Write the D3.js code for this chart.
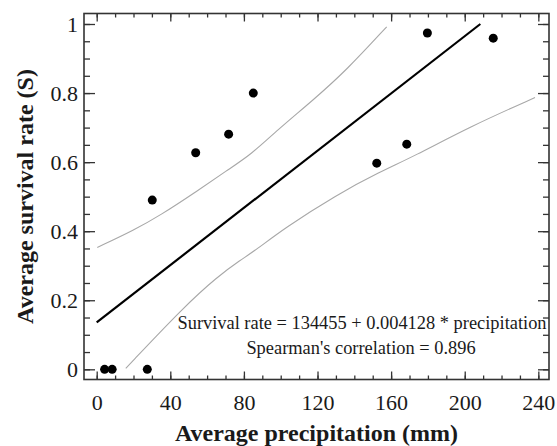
<!DOCTYPE html>
<html>
<head>
<meta charset="utf-8">
<script src="https://cdn.jsdelivr.net/npm/d3@7"></script>
<style>
  html, body { margin: 0; padding: 0; background: #fff; }
  svg { display: block; }
</style>
</head>
<body>
<script>
// ---- data ----
const precipitation = [4.3, 8.4, 27.5, 30.2, 53.8, 71.7, 85.1, 152.2, 168.5, 179.7, 215.5];
const survival      = [0.0, 0.0, 0.0, 0.490, 0.627, 0.681, 0.800, 0.597, 0.652, 0.974, 0.959];

const fitX = [0, 208.5];
const fitY = [0.136, 1.0];

const upperX = [0.3, 20.3, 34.8, 52.9, 71, 83.7, 98.2, 117.7, 135.9, 157.6];
const upperY = [0.353, 0.403, 0.447, 0.510, 0.577, 0.621, 0.693, 0.780, 0.867, 0.992];

const lowerX = [15.8, 47.4, 65.5, 78.3, 86.4, 101.8, 130.2, 154, 172.1, 202.9, 238.2];
const lowerY = [0.003, 0.181, 0.268, 0.317, 0.345, 0.408, 0.505, 0.572, 0.616, 0.703, 0.787];

const xTickLabels = [0, 40, 80, 120, 160, 200, 240];
const yTickLabels = [0, 0.2, 0.4, 0.6, 0.8, 1];
const annotation1 = "Survival rate = 134455 + 0.004128 * precipitation";
const annotation2 = "Spearman's correlation = 0.896";
const xTitle = "Average precipitation (mm)";
const yTitle = "Average survival rate (S)";

// ---- layout ----
const W = 557, H = 446;
const L = 84, R = 549, T = 13.5, B = 379.5;
const FONT = "Liberation Serif, Tinos, Times New Roman, DejaVu Serif, serif";

const x = d3.scaleLinear().domain([-6.9, 245.8]).range([L, R]);
const y = d3.scaleLinear().domain([-0.0295, 1.0304]).range([B, T]);

const svg = d3.select("body").append("svg").attr("width", W).attr("height", H)
  .attr("font-family", FONT);

const stroke = "#333";
const xMinor = d3.range(0, 241, 10);
const yMinor = d3.range(0, 1.0001, 0.05);

function styleAxis(g) {
  g.attr("font-family", FONT).attr("font-size", 22);
  g.select(".domain").remove();
  g.selectAll(".tick line").attr("stroke", stroke).attr("stroke-width", 1.3);
  g.selectAll(".tick text").attr("fill", "#1a1a1a");
}

// bottom axis
svg.append("g").attr("transform", `translate(0,${B})`)
  .call(d3.axisBottom(x).tickValues(xMinor).tickSizeInner(-4).tickSizeOuter(0).tickFormat(""))
  .call(styleAxis);
svg.append("g").attr("transform", `translate(0,${B})`)
  .call(d3.axisBottom(x).tickValues(xTickLabels).tickSizeInner(-8).tickSizeOuter(0).tickPadding(15).tickFormat(d3.format("d")))
  .call(styleAxis);
// top axis
svg.append("g").attr("transform", `translate(0,${T})`)
  .call(d3.axisTop(x).tickValues(xMinor).tickSizeInner(-4).tickSizeOuter(0).tickFormat(""))
  .call(styleAxis);
svg.append("g").attr("transform", `translate(0,${T})`)
  .call(d3.axisTop(x).tickValues(xTickLabels).tickSizeInner(-8).tickSizeOuter(0).tickFormat(""))
  .call(styleAxis);
// left axis
svg.append("g").attr("transform", `translate(${L},0)`)
  .call(d3.axisLeft(y).tickValues(yMinor).tickSizeInner(-6).tickSizeOuter(0).tickFormat(""))
  .call(styleAxis);
svg.append("g").attr("transform", `translate(${L},0)`)
  .call(d3.axisLeft(y).tickValues(yTickLabels).tickSizeInner(-11).tickSizeOuter(0).tickPadding(6)
    .tickFormat(d => d === 0 ? "0" : d === 1 ? "1" : d3.format(".1f")(d)))
  .call(styleAxis);
// right axis
svg.append("g").attr("transform", `translate(${R},0)`)
  .call(d3.axisRight(y).tickValues(yMinor).tickSizeInner(-6).tickSizeOuter(0).tickFormat(""))
  .call(styleAxis);
svg.append("g").attr("transform", `translate(${R},0)`)
  .call(d3.axisRight(y).tickValues(yTickLabels).tickSizeInner(-11).tickSizeOuter(0).tickFormat(""))
  .call(styleAxis);

// frame
svg.append("rect").attr("x", L).attr("y", T).attr("width", R - L).attr("height", B - T)
  .attr("fill", "none").attr("stroke", stroke).attr("stroke-width", 1.6);

svg.append("clipPath").attr("id", "clip").append("rect")
  .attr("x", L).attr("y", T).attr("width", R - L).attr("height", B - T);

const plot = svg.append("g").attr("clip-path", "url(#clip)");

const band = d3.line().x(d => x(d[0])).y(d => y(d[1])).curve(d3.curveBasis);

plot.append("path").datum(d3.zip(upperX, upperY)).attr("d", band)
  .attr("fill", "none").attr("stroke", "#a8a8a8").attr("stroke-width", 1.1);
plot.append("path").datum(d3.zip(lowerX, lowerY)).attr("d", band)
  .attr("fill", "none").attr("stroke", "#a8a8a8").attr("stroke-width", 1.1);
plot.append("path").datum(d3.zip(fitX, fitY)).attr("d", d3.line().x(d => x(d[0])).y(d => y(d[1])))
  .attr("fill", "none").attr("stroke", "#000").attr("stroke-width", 2.2);

svg.append("g").selectAll("circle").data(d3.zip(precipitation, survival)).join("circle")
  .attr("cx", d => x(d[0])).attr("cy", d => y(d[1])).attr("r", 4.5).attr("fill", "#000");

// annotation
svg.append("text").attr("x", 362).attr("y", 329).attr("text-anchor", "middle")
  .attr("font-family", FONT).attr("font-size", 18.4).attr("fill", "#1a1a1a").text(annotation1);
svg.append("text").attr("x", 361).attr("y", 354).attr("text-anchor", "middle")
  .attr("font-family", FONT).attr("font-size", 18.4).attr("fill", "#1a1a1a").text(annotation2);

// titles
svg.append("text").attr("x", (L + R) / 2).attr("y", 441).attr("text-anchor", "middle")
  .attr("font-family", FONT).attr("font-size", 24).attr("font-weight", "bold").attr("fill", "#1a1a1a").text(xTitle);
svg.append("text").attr("transform", `translate(32.5,${(T + B) / 2}) rotate(-90)`)
  .attr("text-anchor", "middle").attr("font-family", FONT).attr("font-size", 24).attr("font-weight", "bold")
  .attr("fill", "#1a1a1a").text(yTitle);
</script>
</body>
</html>
